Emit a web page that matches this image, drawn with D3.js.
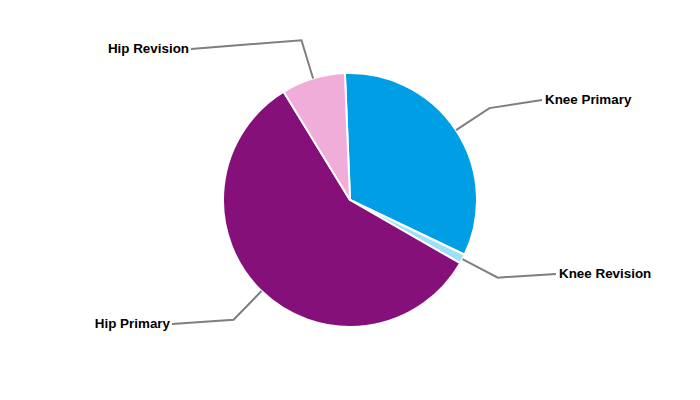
<!DOCTYPE html>
<html><head><meta charset="utf-8">
<script src="https://cdn.jsdelivr.net/npm/d3@7"></script>
<style>body{margin:0;background:#fff}svg{display:block}</style>
</head><body>
<svg id="c" width="700" height="400"></svg>
<script>
const categories = ["Knee Primary", "Knee Revision", "Hip Primary", "Hip Revision"];
const values = [32.7, 1.2, 57.9, 8.1];
const colors = ["#009EE5", "#9FE0F8", "#86107A", "#F0ADDA"];
// label text anchor points (layout)
const labelAnchor = {
  "Knee Primary": {x: 542, y: 100, side: "right"},
  "Knee Revision": {x: 556, y: 274, side: "right"},
  "Hip Primary": {x: 172, y: 324, side: "left"},
  "Hip Revision": {x: 191, y: 49, side: "left"}
};

const svg = d3.select("#c");
const cx = 350, cy = 200, R = 127, elbowR = 167;
const startOffset = -2.3 * Math.PI / 180;

const pie = d3.pie().sort(null).value(d => d.v)
  .startAngle(startOffset).endAngle(startOffset + 2 * Math.PI);
const data = categories.map((c, i) => ({c, v: values[i], col: colors[i]}));
const arcs = pie(data);
const arc = d3.arc().innerRadius(0).outerRadius(R);

const g = svg.append("g").attr("transform", `translate(${cx},${cy})`);
g.selectAll("path").data(arcs).join("path")
  .attr("d", arc)
  .attr("fill", d => d.data.col)
  .attr("stroke", "#fff")
  .attr("stroke-width", 2)
  .attr("stroke-linejoin", "round");

arcs.forEach(a => {
  const m = (a.startAngle + a.endAngle) / 2;
  const p0 = [R * Math.sin(m), -R * Math.cos(m)];
  const p1 = [elbowR * Math.sin(m), -elbowR * Math.cos(m)];
  const la = labelAnchor[a.data.c];
  const p2 = [la.x - cx, la.y - cy];
  g.append("polyline")
    .attr("points", [p0, p1, p2].map(p => p.join(",")).join(" "))
    .attr("fill", "none")
    .attr("stroke", "#7f7f7f")
    .attr("stroke-width", 2);
  g.append("text")
    .attr("x", p2[0] + (la.side === "right" ? 3 : -2))
    .attr("y", p2[1])
    .attr("dy", "0.3em")
    .attr("text-anchor", la.side === "right" ? "start" : "end")
    .attr("font-family", "Liberation Sans, Arial, sans-serif")
    .attr("font-weight", "bold")
    .attr("font-size", "13.4px")
    .attr("fill", "#000")
    .text(a.data.c);
});
</script>
</body></html>
